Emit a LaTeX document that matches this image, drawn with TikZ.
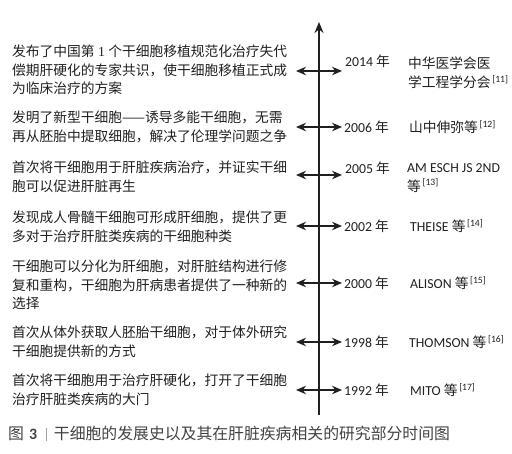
\documentclass[tikz,border=0pt]{standalone}
\usepackage{fontspec}
\setmainfont{Noto Sans CJK SC}
\newfontfamily\latin{Carlito}
\newfontfamily\romannum{Liberation Serif}
\usepackage{tikz}
\usetikzlibrary{arrows.meta}
\definecolor{TimeInk}{HTML}{231F20}
\definecolor{TimeBar}{HTML}{A0A0A0}
\newcommand{\refmark}[1]{\textsuperscript{\latin\,[#1]}}

\begin{document}
\begin{tikzpicture}[x=1bp, y=-1bp,
  every node/.style={inner sep=0pt, text=TimeInk},
  event/.style={anchor=west, align=left, font=\fontsize{13.8}{18.6}\selectfont},
  yearlbl/.style={anchor=west, font=\fontsize{13.8}{18.6}\selectfont},
  who/.style={anchor=west, align=left, font=\fontsize{13.8}{18.6}\selectfont},
  link/.style={TimeInk, line width=1.2bp, {Stealth[length=10bp,width=8.5bp]}-{Stealth[length=10bp,width=8.5bp]}},
  axis/.style={TimeInk, line width=1.8bp, -{Stealth[length=11bp,width=9bp]}}]
  \useasboundingbox (0,0) rectangle (512,454);
  % axis
  \coordinate (axisbot) at (319,415);
  \coordinate (axistop) at (319,22);
  \draw[axis] (axisbot) -- (axistop);
  % double arrows at each year
  \foreach \yr/\y in {2014/71,2006/127,2005/175,2002/226,2000/283,1998/342,1992/390}{
    \coordinate (l\yr) at (296,\y);
    \coordinate (r\yr) at (342,\y);
    \draw[link] (l\yr) -- (r\yr);
  }
  % events (left)
  \node[event] (e2014) at (12,70) {发布了中国第{\romannum\ 1 }个干细胞移植规范化治疗失代\\偿期肝硬化的专家共识，使干细胞移植正式成\\为临床治疗的方案};
  \node[event] (e2006) at (12,127) {发明了新型干细胞——诱导多能干细胞，无需\\再从胚胎中提取细胞，解决了伦理学问题之争};
  \node[event] (e2005) at (12,177) {首次将干细胞用于肝脏疾病治疗，并证实干细\\胞可以促进肝脏再生};
  \node[event] (e2002) at (12,227) {发现成人骨髓干细胞可形成肝细胞，提供了更\\多对于治疗肝脏类疾病的干细胞种类};
  \node[event] (e2000) at (12,285) {干细胞可以分化为肝细胞，对肝脏结构进行修\\复和重构，干细胞为肝病患者提供了一种新的\\选择};
  \node[event] (e1998) at (12,342) {首次从体外获取人胚胎干细胞，对于体外研究\\干细胞提供新的方式};
  \node[event] (e1992) at (12,390) {首次将干细胞用于治疗肝硬化，打开了干细胞\\治疗肝脏类疾病的大门};
  % years
  \node[yearlbl] (y2014) at ([xshift=3bp,yshift=10bp]r2014) {{\latin 2014} 年};
  \node[yearlbl] (y2006) at ([xshift=2bp]r2006) {{\latin 2006} 年};
  \node[yearlbl] (y2005) at ([xshift=3bp,yshift=7bp]r2005) {{\latin 2005} 年};
  \node[yearlbl] (y2002) at ([xshift=2bp]r2002) {{\latin 2002} 年};
  \node[yearlbl] (y2000) at ([xshift=2bp]r2000) {{\latin 2000} 年};
  \node[yearlbl] (y1998) at ([xshift=2bp]r1998) {{\latin 1998} 年};
  \node[yearlbl] (y1992) at ([xshift=2bp]r1992) {{\latin 1992} 年};
  % authors (right)
  \node[who] (w2014) at (408,73) {中华医学会医\\学工程学分会\refmark{11}};
  \node[who] (w2006) at (409,127) {山中伸弥等\refmark{12}};
  \node[who] (w2005) at (407,178) {{\latin AM ESCH JS 2ND}\\等\refmark{13}};
  \node[who] (w2002) at (410,226) {{\latin THEISE} 等\refmark{14}};
  \node[who] (w2000) at (410,283) {{\latin ALISON} 等\refmark{15}};
  \node[who] (w1998) at (409,342) {{\latin THOMSON} 等\refmark{16}};
  \node[who] (w1992) at (410,390) {{\latin MITO} 等\refmark{17}};
  % caption
  \node[anchor=west, font=\fontsize{15.9}{18}\selectfont, text=TimeInk!85] (caption) at (8,434)
    {图\hspace{5bp}{\latin\bfseries 3}\hspace{9bp}\textcolor{TimeBar}{\rule[-1.5bp]{0.9bp}{13bp}}\hspace{7bp}干细胞的发展史以及其在肝脏疾病相关的研究部分时间图};
\end{tikzpicture}
\end{document}
